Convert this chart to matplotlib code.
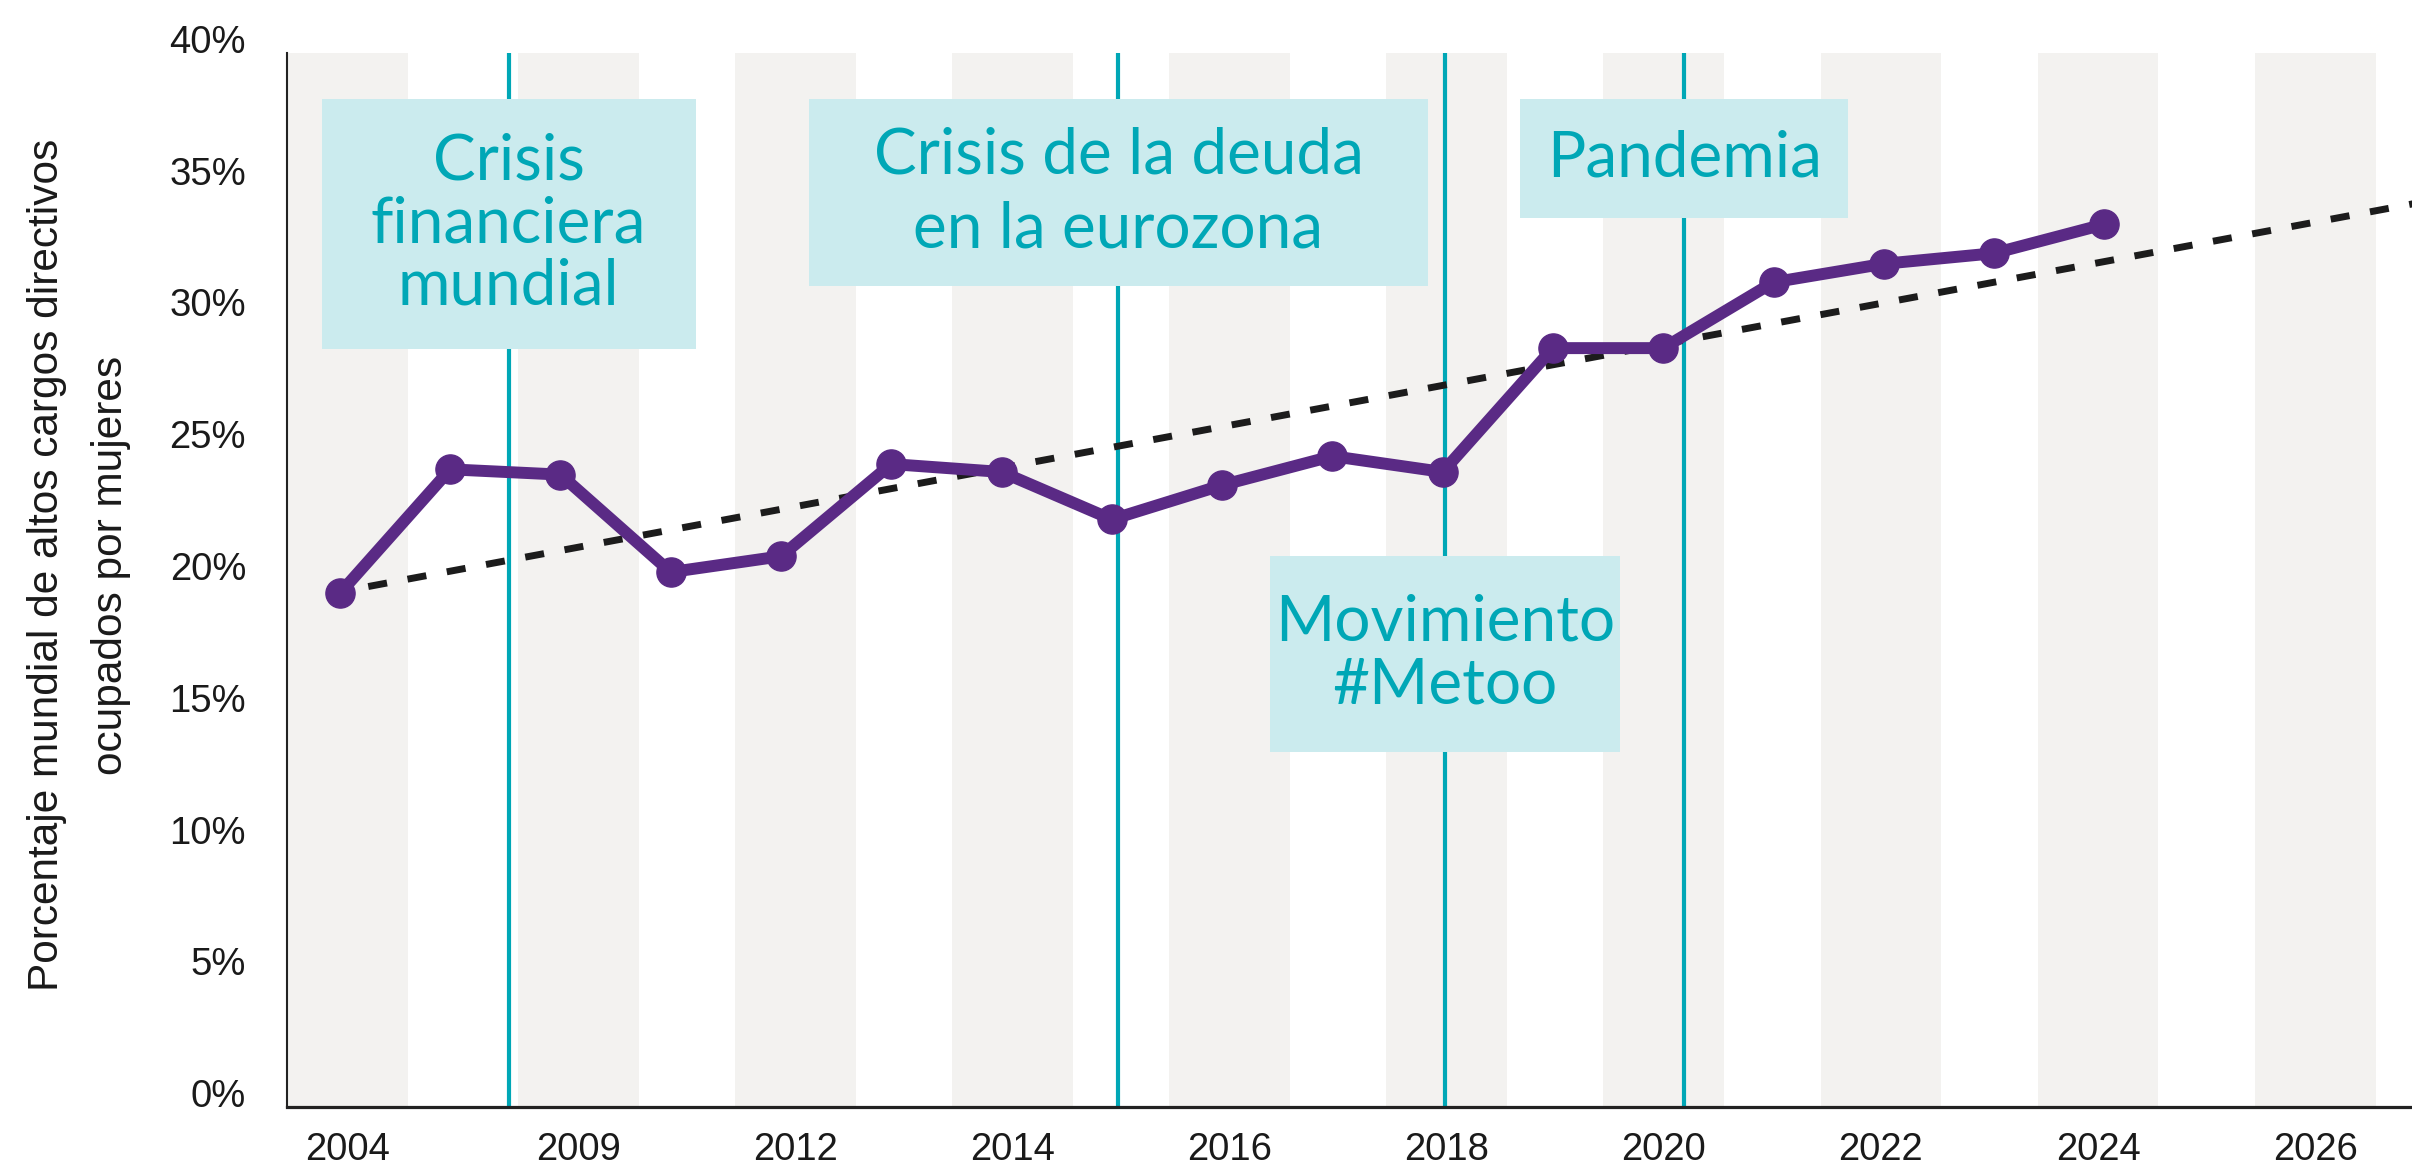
import numpy as np
import matplotlib
matplotlib.use('Agg')
import matplotlib.pyplot as plt
from matplotlib.patches import Rectangle

# survey years (not evenly spaced in time, drawn as equal steps)
years = ['2004', '2007', '2009', '2011', '2012', '2013', '2014', '2015', '2016',
         '2017', '2018', '2019', '2020', '2021', '2022', '2023', '2024']
share = [19.5, 24.2, 24.0, 20.3, 20.9, 24.4, 24.1, 22.3, 23.6,
         24.7, 24.1, 28.8, 28.8, 31.3, 32.0, 32.4, 33.5]

tick_labels = ['2004', '2009', '2012', '2014', '2016', '2018', '2020',
               '2022', '2024', '2026']
y_ticks = [0, 5, 10, 15, 20, 25, 30, 35, 40]

events = ['Crisis\nfinanciera\nmundial', 'Crisis de la deuda\nen la eurozona',
          'Movimiento\n#Metoo', 'Pandemia']

# layout of the event markers and their boxes (axis units)
event_x = [1.53, 7.06, 10.02, 12.19]
box_w = [3.39, 5.61, 3.18, 2.97]
box_y = [(28.77, 38.25), (31.16, 38.25), (13.47, 20.91), (33.74, 38.25)]
line_sp = [1.1, 1.35, 1.1, 1.1]

PURPLE = '#5A2A85'
TEAL = '#00A7B6'
BOX = '#CBEBEE'
STRIPE = '#F3F2F0'

W, H = 2412, 1169
fig = plt.figure(figsize=(W / 100, H / 100), dpi=100)
ax = fig.add_axes([287 / W, 1 - 1107 / H, 1 - 287 / W, (1107 - 53) / H])

x = np.arange(len(years))
x_lo, x_hi = -0.48, 18.79
ax.set_xlim(x_lo, x_hi)
ax.set_ylim(0, 40)

# alternating grey bands, one under each tick label
band_step, band_w = 1.969, 1.095
band_c = np.r_[x_lo + band_w / 2,
               2.16 + band_step * np.arange(len(tick_labels) - 1)]
for c in band_c:
    ax.axvspan(c - band_w / 2, c + band_w / 2, color=STRIPE, lw=0, zorder=0)

for ex in event_x:
    ax.axvline(ex, color=TEAL, lw=3, zorder=1)

# linear trend
coef = np.polyfit(x, share, 1)
xt = np.array([0, x_hi + 1])
ax.plot(xt, np.polyval(coef, xt), color='#1c1c1c', lw=5,
        linestyle=(1.6, (2.75, 3.0)), zorder=2)

for ex, lab, bw, (y0, y1), ls in zip(event_x, events, box_w, box_y, line_sp):
    ax.add_patch(Rectangle((ex - bw / 2, y0), bw, y1 - y0, facecolor=BOX,
                           edgecolor='none', zorder=3))
    ax.text(ex, (y0 + y1) / 2, lab, ha='center', va='center', multialignment='center',
            color=TEAL, fontsize=46, family='Lato', linespacing=ls, zorder=4)

ax.plot(x, share, color=PURPLE, lw=8.6, marker='o', markersize=21,
        solid_joinstyle='round', zorder=5)

ax.set_yticks(y_ticks)
ax.set_yticklabels([f'{v}%' for v in y_ticks])
ax.set_xticks(band_c)
ax.set_xticklabels(tick_labels)
for lab in ax.get_yticklabels():
    lab.set_verticalalignment('baseline')
for lab in ax.get_xticklabels() + ax.get_yticklabels():
    lab.set_family('Liberation Sans')
    lab.set_color('#1a1a1a')
ax.tick_params(axis='both', length=0, labelsize=27.5)
ax.tick_params(axis='y', pad=29.5)
ax.tick_params(axis='x', pad=18)

for side in ['top', 'right']:
    ax.spines[side].set_visible(False)
ax.spines['left'].set_linewidth(1.5)
ax.spines['bottom'].set_linewidth(2.3)
ax.spines['left'].set_color('#222222')
ax.spines['bottom'].set_color('#222222')

fig.text(79 / W, 1 - 565 / H,
         'Porcentaje mundial de altos cargos directivos\nocupados por mujeres',
         rotation=90, ha='center', va='center', multialignment='center',
         fontsize=30.5, family='Liberation Sans', color='#1a1a1a', linespacing=1.8)

fig.savefig('out.png', dpi=100)
